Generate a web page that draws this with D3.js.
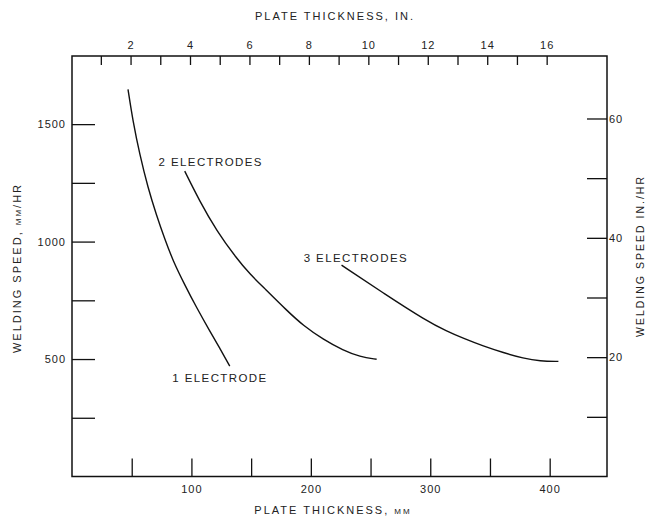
<!DOCTYPE html>
<html>
<head>
<meta charset="utf-8">
<script src="https://cdn.jsdelivr.net/npm/d3@7"></script>
<style>
  body { margin: 0; background: #fff; }
  text { font-family: "Liberation Sans", Arial, sans-serif; fill: #222; }
</style>
</head>
<body>
<div id="chart"></div>
<script>
// curve data: [plate thickness mm, welding speed mm/hr]
let oneElectrode = [[46.9,1648],[51.0,1513],[56.7,1371],[63.6,1229],[70.7,1113],[77.6,1012],[84.6,918],[94.4,816],[104.2,720],[115.3,620],[123.7,547],[132.1,470]];
let twoElectrodes = [[94.4,1300],[106.9,1172],[121.0,1047],[137.7,929],[148.9,862],[161.4,800],[179.6,708],[193.5,643],[210.3,584],[227.1,537],[241.1,510],[255.1,499]];
let threeElectrodes = [[225.7,900],[261.2,779],[297.0,662],[313.7,619],[327.7,588],[344.4,555],[361.2,527],[378.0,503],[392.0,491],[407.3,490]];

let mmTicks = [50,100,150,200,250,300,350,400];
let inchTicks = [1,2,3,4,5,6,7,8,9,10,11,12,13,14,15,16];
let speedTicks = [250,500,750,1000,1250,1500];
let inHrTicks = [10,20,30,40,50,60];

let curveLabels = [
    {text: "1 ELECTRODE", mm: 84, speed: 420},
    {text: "2 ELECTRODES", mm: 72.5, speed: 1340},
    {text: "3 ELECTRODES", mm: 194, speed: 930}
];

let margin = {left: 72, top: 56, right: 39, bottom: 39.5};
let width = 646 - margin.left - margin.right;
let height = 516 - margin.top - margin.bottom;

let svg = d3.select("#chart").append("svg")
    .attr("width", 646)
    .attr("height", 516);

let g = svg.append("g").attr("transform", `translate(${margin.left},${margin.top})`);

let x = d3.scaleLinear().domain([0, 448]).range([0, width]);
let xIn = d3.scaleLinear().domain([0.03, 18.03]).range([0, width]);
let y = d3.scaleLinear().domain([0, 1790]).range([height, 0]);
let yIn = d3.scaleLinear().domain([0, 1790 / 25.4]).range([height, 0]);

function styleAxis(sel) {
    sel.select(".domain").remove();
    sel.selectAll(".tick line").attr("stroke", "#111").attr("stroke-width", 1.3);
    sel.selectAll(".tick text").style("font-size", "11px").style("letter-spacing", "1px").attr("fill", "#222");
}

g.append("g")
    .call(d3.axisLeft(y).tickValues(speedTicks).tickSize(-23).tickPadding(6)
        .tickFormat(d => d % 500 === 0 ? d : ""))
    .call(styleAxis);

g.append("g")
    .attr("transform", `translate(${width},0)`)
    .call(d3.axisRight(yIn).tickValues(inHrTicks).tickSize(-20).tickPadding(2)
        .tickFormat(d => d % 20 === 0 ? d : ""))
    .call(styleAxis);

g.append("g")
    .attr("transform", `translate(0,${height})`)
    .call(d3.axisBottom(x).tickValues(mmTicks).tickSize(-18).tickPadding(9)
        .tickFormat(d => d % 100 === 0 ? d : ""))
    .call(styleAxis);

g.append("g")
    .call(d3.axisTop(xIn).tickValues(inchTicks).tickSize(-9).tickPadding(7)
        .tickFormat(d => d % 2 === 0 ? d : ""))
    .call(styleAxis);

// frame
g.append("rect")
    .attr("width", width)
    .attr("height", height)
    .attr("fill", "none")
    .attr("stroke", "#111")
    .attr("stroke-width", 1.5);

// curves
let line = d3.line()
    .x(d => x(d[0]))
    .y(d => y(d[1]))
    .curve(d3.curveBasis);

g.selectAll("path.curve")
    .data([oneElectrode, twoElectrodes, threeElectrodes])
    .join("path")
    .attr("class", "curve")
    .attr("d", line)
    .attr("fill", "none")
    .attr("stroke", "#111")
    .attr("stroke-width", 1.4);

g.selectAll("text.curve-label")
    .data(curveLabels)
    .join("text")
    .attr("class", "curve-label")
    .attr("x", d => x(d.mm))
    .attr("y", d => y(d.speed))
    .attr("dy", "0.35em")
    .style("font-size", "11.5px")
    .style("letter-spacing", "1.4px")
    .text(d => d.text);

// axis titles
svg.append("text")
    .attr("x", 335).attr("y", 20)
    .attr("text-anchor", "middle")
    .style("font-size", "11px").style("letter-spacing", "2px")
    .text("PLATE THICKNESS, IN.");

let bottomTitle = svg.append("text")
    .attr("x", 333).attr("y", 514)
    .attr("text-anchor", "middle")
    .style("font-size", "11px").style("letter-spacing", "2px")
    .text("PLATE THICKNESS, ");
bottomTitle.append("tspan").style("font-size", "8px").text("MM");

let leftTitle = svg.append("text")
    .attr("transform", "translate(21,268) rotate(-90)")
    .attr("text-anchor", "middle")
    .style("font-size", "11px").style("letter-spacing", "2px")
    .text("WELDING SPEED, ");
leftTitle.append("tspan").style("font-size", "8px").text("MM");
leftTitle.append("tspan").text("/HR");

svg.append("text")
    .attr("transform", "translate(644,256) rotate(-90)")
    .attr("text-anchor", "middle")
    .style("font-size", "10.5px").style("letter-spacing", "2px")
    .text("WELDING SPEED  IN./HR");
</script>
</body>
</html>
